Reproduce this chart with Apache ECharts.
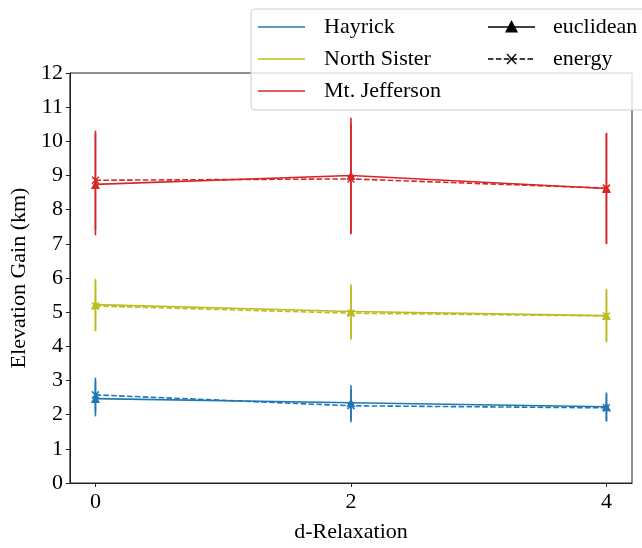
<!DOCTYPE html>
<html>
<head>
<meta charset="utf-8">
<script src="https://cdn.jsdelivr.net/npm/echarts@6/dist/echarts.min.js"></script>
<style>
html,body{margin:0;padding:0;background:#fff;}
#chart{width:642px;height:548px;}
</style>
</head>
<body>
<div id="chart"></div>
<script>
// ---- data ----
const xValues = [0, 2, 4];
const xTickLabels = [0, 2, 4];
const yTicks = [0,1,2,3,4,5,6,7,8,9,10,11,12];

const mountains = ['Hayrick', 'North Sister', 'Mt. Jefferson'];
const colors = ['#1f77b4', '#bcbd22', '#d62728'];

const hayrickEuclid = [2.47, 2.35, 2.23];
const hayrickEuclidErr = [0.52, 0.51, 0.42];
const hayrickEnergy = [2.58, 2.26, 2.20];
const hayrickEnergyErr = [0.50, 0.48, 0.40];

const northEuclid = [5.22, 5.02, 4.90];
const northEuclidErr = [0.75, 0.80, 0.78];
const northEnergy = [5.18, 4.97, 4.89];
const northEnergyErr = [0.74, 0.78, 0.76];

const jeffEuclid = [8.74, 9.00, 8.62];
const jeffEuclidErr = [1.49, 1.69, 1.63];
const jeffEnergy = [8.86, 8.90, 8.63];
const jeffEnergyErr = [1.45, 1.62, 1.60];

const FONT = 'Liberation Serif';

const chart = echarts.init(document.getElementById('chart'), null, {renderer: 'canvas'});

function pts(vals) { return xValues.map((x, i) => [x, vals[i]]); }

function errSeries(vals, errs, color) {
  return {
    type: 'custom',
    data: xValues.map((x, i) => [x, vals[i] - errs[i], vals[i] + errs[i]]),
    renderItem: function (params, api) {
      const lo = api.coord([api.value(0), api.value(1)]);
      const hi = api.coord([api.value(0), api.value(2)]);
      return {
        type: 'line',
        shape: {x1: lo[0], y1: lo[1], x2: hi[0], y2: hi[1]},
        style: {stroke: color, lineWidth: 1.6}
      };
    },
    z: 2,
    silent: true
  };
}

const xMark = 'path://M0,0L10,10M10,0L0,10';

function lineSeries(name, vals, color, dashed) {
  return {
    name: name,
    type: 'line',
    data: pts(vals),
    symbol: dashed ? xMark : 'triangle',
    symbolSize: dashed ? 7 : 9,
    showSymbol: true,
    lineStyle: {color: color, width: 1.6, type: dashed ? [5.5, 2.4] : 'solid'},
    itemStyle: {color: dashed ? 'rgba(0,0,0,0)' : color, borderColor: color, borderWidth: dashed ? 1.5 : 0},
    z: 3,
    silent: true,
    animation: false
  };
}

const groups = [
  [hayrickEuclid, hayrickEuclidErr, hayrickEnergy, hayrickEnergyErr],
  [northEuclid, northEuclidErr, northEnergy, northEnergyErr],
  [jeffEuclid, jeffEuclidErr, jeffEnergy, jeffEnergyErr]
];

const series = [];
groups.forEach((g, k) => {
  series.push(errSeries(g[0], g[1], colors[k]));
  series.push(errSeries(g[2], g[3], colors[k]));
  series.push(lineSeries(mountains[k] + ' euclidean', g[0], colors[k], false));
  series.push(lineSeries(mountains[k] + ' energy', g[2], colors[k], true));
});

// legend (graphic)
const LX = 251, LY = 9;
const legendGraphics = [
  {type: 'rect', shape: {x: LX, y: LY, width: 420, height: 101, r: 4},
   style: {fill: 'rgba(255,255,255,0.8)', stroke: '#cccccc', lineWidth: 1}, z: 100}
];
const rowsY = [27, 59, 91];
mountains.forEach((m, k) => {
  legendGraphics.push({type: 'line', shape: {x1: 258, y1: rowsY[k], x2: 305, y2: rowsY[k]},
    style: {stroke: colors[k], lineWidth: 1.6}, z: 101});
  legendGraphics.push({type: 'text', x: 324, y: rowsY[k],
    style: {text: m, font: '22px "' + FONT + '"', fill: '#000', verticalAlign: 'middle'}, z: 101});
});
legendGraphics.push({type: 'line', shape: {x1: 488, y1: rowsY[0], x2: 535, y2: rowsY[0]},
  style: {stroke: '#000', lineWidth: 1.6}, z: 101});
legendGraphics.push({type: 'polygon', shape: {points: [[511.5, rowsY[0]-7], [505, rowsY[0]+5.5], [518, rowsY[0]+5.5]]},
  style: {fill: '#000'}, z: 102});
legendGraphics.push({type: 'text', x: 553, y: rowsY[0],
  style: {text: 'euclidean', font: '22px "' + FONT + '"', fill: '#000', verticalAlign: 'middle'}, z: 101});
legendGraphics.push({type: 'line', shape: {x1: 488, y1: rowsY[1], x2: 535, y2: rowsY[1]},
  style: {stroke: '#000', lineWidth: 1.6, lineDash: [5.5, 2.4]}, z: 101});
legendGraphics.push({type: 'line', shape: {x1: 507, y1: rowsY[1]-5, x2: 516, y2: rowsY[1]+5},
  style: {stroke: '#000', lineWidth: 1.3}, z: 102});
legendGraphics.push({type: 'line', shape: {x1: 516, y1: rowsY[1]-5, x2: 507, y2: rowsY[1]+5},
  style: {stroke: '#000', lineWidth: 1.3}, z: 102});
legendGraphics.push({type: 'text', x: 553, y: rowsY[1],
  style: {text: 'energy', font: '22px "' + FONT + '"', fill: '#000', verticalAlign: 'middle'}, z: 101});

const option = {
  animation: false,
  backgroundColor: '#fff',
  grid: {left: 67, right: 10, top: 73, bottom: 56, show: true, borderColor: '#222', borderWidth: 1, backgroundColor: 'transparent'},
  xAxis: {
    type: 'value', min: -0.2, max: 4.2,
    name: 'd-Relaxation', nameLocation: 'middle', nameGap: 38,
    nameTextStyle: {fontFamily: FONT, fontSize: 22, color: '#000'},
    axisLine: {show: true, onZero: false, lineStyle: {color: '#222', width: 1}},
    axisTick: {show: true, length: 4, inside: false, customValues: xTickLabels, lineStyle: {color: '#222'}},
    axisLabel: {fontFamily: FONT, fontSize: 22, color: '#000', margin: 8, customValues: xTickLabels, formatter: v => String(v)},
    splitLine: {show: false}
  },
  yAxis: {
    type: 'value', min: 0, max: 12, interval: 1,
    name: 'Elevation Gain (km)', nameLocation: 'middle', nameGap: 34,
    nameTextStyle: {fontFamily: FONT, fontSize: 22, color: '#000'},
    axisLine: {show: true, onZero: false, lineStyle: {color: '#222', width: 1}},
    axisTick: {show: true, length: 4, lineStyle: {color: '#222'}},
    axisLabel: {fontFamily: FONT, fontSize: 22, color: '#000', margin: 7},
    splitLine: {show: false}
  },
  series: series,
  graphic: legendGraphics
};
chart.setOption(option);
</script>
</body>
</html>
